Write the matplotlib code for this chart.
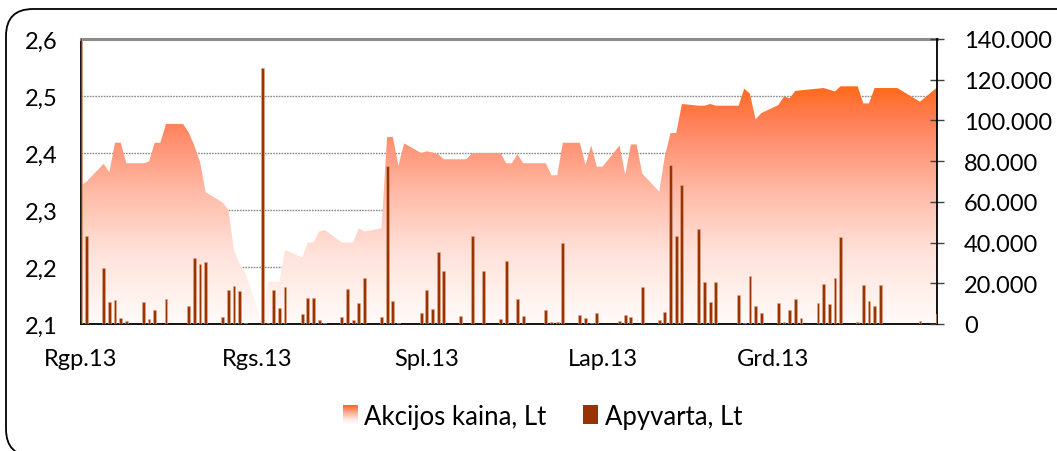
import matplotlib
matplotlib.use("Agg")
import matplotlib.pyplot as plt
import matplotlib.dates as mdates
from matplotlib.colors import LinearSegmentedColormap
from matplotlib.patches import Polygon, Rectangle, FancyBboxPatch
from matplotlib.legend_handler import HandlerBase
import numpy as np
import pandas as pd

# ---------------- data ----------------
aug_days = [1, 2, 5, 6, 7, 8, 9, 12, 13, 14, 15, 16, 19, 20, 21, 22, 23, 26, 27, 28, 29, 30]
aug_price = [2.343, 2.350, 2.381, 2.366, 2.418, 2.418, 2.382, 2.382, 2.385, 2.418, 2.418,
             2.451, 2.451, 2.436, 2.413, 2.384, 2.331, 2.313, 2.300, 2.229, 2.205, 2.190]
aug_turn = [150000, 43400, 27400, 10950, 11800, 2800, 1600, 10700, 2500, 7000, 0,
            12400, 0, 8800, 32600, 29500, 30300, 3300, 16900, 18700, 16400, 400]

sep_days = [2, 3, 4, 5, 6, 9, 10, 11, 12, 13, 16, 17, 18, 19, 20, 23, 24, 25, 26, 27, 30]
sep_price = [2.100, 2.174, 2.174, 2.174, 2.230, 2.217, 2.243, 2.243, 2.262, 2.265, 2.243,
             2.243, 2.243, 2.268, 2.262, 2.268, 2.428, 2.428, 2.378, 2.417, 2.400]
sep_turn = [125800, 300, 16900, 7900, 18300, 4900, 12600, 12900, 2000, 300, 3300,
            17000, 2100, 10200, 22400, 3300, 77800, 11300, 500, 200, 5200]

oct_days = [1, 2, 3, 4, 7, 8, 9, 10, 11, 14, 15, 16, 17, 18, 21, 22, 23, 24, 25, 28, 29, 30, 31]
oct_price = [2.403, 2.401, 2.398, 2.389, 2.389, 2.389, 2.400, 2.400, 2.400, 2.400, 2.382,
             2.382, 2.398, 2.382, 2.382, 2.382, 2.361, 2.361, 2.418, 2.418, 2.379, 2.413, 2.376]
oct_turn = [16500, 7400, 35200, 25900, 4100, 0, 43400, 0, 26200, 2500, 30800,
            0, 12300, 3800, 0, 6900, 1200, 1200, 39800, 4400, 3100, 700, 5400]

nov_days = [1, 4, 5, 6, 7, 8, 11, 12, 13, 14, 15, 18, 19, 20, 21, 22, 25, 26, 27, 28, 29]
nov_price = [2.376, 2.413, 2.362, 2.415, 2.415, 2.364, 2.332, 2.395, 2.435, 2.435, 2.486,
             2.483, 2.483, 2.486, 2.483, 2.483, 2.483, 2.513, 2.504, 2.459, 2.470]
nov_turn = [0, 1600, 4400, 3400, 0, 18000, 1800, 5700, 78100, 43100, 68300,
            46700, 20500, 10700, 20500, 0, 14300, 500, 23400, 8700, 5400]

dec_days = [2, 3, 4, 5, 6, 9, 10, 11, 12, 13, 16, 17, 18, 19, 20, 23, 27, 30]
dec_price = [2.484, 2.499, 2.496, 2.509, 2.510, 2.513, 2.514, 2.511, 2.508, 2.517, 2.517,
             2.487, 2.487, 2.514, 2.514, 2.514, 2.490, 2.515]
dec_turn = [10500, 1100, 6900, 12200, 2900, 10200, 19700, 9600, 22500, 42600, 800,
            19200, 11500, 9000, 19200, 0, 1600, 5100]

month_ticks = ["2013-08-01", "2013-09-01", "2013-10-01", "2013-11-01", "2013-12-01"]
month_labels = ["Rgp.13", "Rgs.13", "Spl.13", "Lap.13", "Grd.13"]
left_ticks = [2.1, 2.2, 2.3, 2.4, 2.5, 2.6]
right_ticks = [0, 20000, 40000, 60000, 80000, 100000, 120000, 140000]
series_names = ["Akcijos kaina, Lt", "Apyvarta, Lt"]

# ---------------- assemble ----------------
dates, price, turn = [], [], []
for m, d_, p_, t_ in [(8, aug_days, aug_price, aug_turn), (9, sep_days, sep_price, sep_turn),
                      (10, oct_days, oct_price, oct_turn), (11, nov_days, nov_price, nov_turn),
                      (12, dec_days, dec_price, dec_turn)]:
    dates += [pd.Timestamp(2013, m, d) for d in d_]
    price += p_
    turn += t_
xn = mdates.date2num(pd.to_datetime(dates).to_pydatetime())
price = np.array(price)
turn = np.array(turn)

plt.rcParams['font.family'] = ['Lato', 'DejaVu Sans']
FS = 17
LFS = 18.5

W, H = 1057, 452
fig = plt.figure(figsize=(W / 100, H / 100), dpi=100)
fig.patch.set_facecolor('white')

# outer rounded frame
frame = FancyBboxPatch((0.06, -0.05), 10.80, 4.47,
                       boxstyle="round,pad=0,rounding_size=0.27",
                       transform=fig.dpi_scale_trans, facecolor='none',
                       edgecolor='black', linewidth=1.3, clip_on=False)
fig.patches.append(frame)

L, R, T, B = 81, 937, 40, 325
ax = fig.add_axes([L / W, 1 - B / H, (R - L) / W, (B - T) / H])
ax.set_facecolor('none')

ymin, ymax = 2.1, 2.6
x0 = mdates.date2num(pd.Timestamp("2013-08-01").to_pydatetime())
x1 = mdates.date2num(pd.Timestamp("2013-12-30").to_pydatetime())

# gridlines
for g in left_ticks[1:-1]:
    ax.axhline(g, color='#8a8a8a', lw=1.0, ls=(0, (1.2, 0.8)), zorder=0.5)

# gradient area
cmap = LinearSegmentedColormap.from_list('grad', [
    (0.0, '#fffbfa'), (0.30, '#ffe2da'), (0.55, '#ffbba8'),
    (0.75, '#ff9476'), (0.87, '#ff7d52'), (1.0, '#ff6a1a')])
top = price.max()
verts = [(xn[0], ymin)] + list(zip(xn, price)) + [(xn[-1], ymin)]
poly = Polygon(verts, closed=True, facecolor='none', edgecolor='none', transform=ax.transData)
ax.add_patch(poly)
grad = np.linspace(0, 1, 512).reshape(-1, 1)
im = ax.imshow(grad, cmap=cmap, origin='lower', aspect='auto',
               extent=[x0, x1, ymin, top], zorder=1, interpolation='bilinear')
im.set_clip_path(poly)
ax.set_xlim(x0, x1)
ax.set_ylim(ymin, ymax)

ax.set_yticks(left_ticks)
ax.set_yticklabels([f"{v:.1f}".replace('.', ',') for v in left_ticks], fontsize=FS)
ax.tick_params(axis='y', length=0, pad=17)
ax.set_xticks(mdates.date2num(pd.to_datetime(month_ticks).to_pydatetime()))
ax.set_xticklabels(month_labels, fontsize=FS)
ax.tick_params(axis='x', length=0, pad=17)

for s in ['left', 'bottom']:
    ax.spines[s].set_color('black')
    ax.spines[s].set_linewidth(1.3)
ax.spines['top'].set_color('#8c8c8c')
ax.spines['top'].set_linewidth(2.2)
ax.spines['right'].set_visible(False)

# turnover bars on secondary axis
ax2 = ax.twinx()
ax2.set_ylim(0, 140000)
ax2.bar(xn, turn, width=0.5, color='#993300', edgecolor='#e3a98c', linewidth=0.4, zorder=3)
ax2.set_xlim(x0, x1)
ax2.set_yticks(right_ticks)
ax2.set_yticklabels([f"{v:,}".replace(',', '.') for v in right_ticks], fontsize=FS)
ax2.tick_params(axis='y', direction='inout', length=9.6, width=1.0, color='#404040', pad=14.5)
for s in ['left', 'top', 'bottom']:
    ax2.spines[s].set_visible(False)
ax2.spines['right'].set_color('black')
ax2.spines['right'].set_linewidth(1.3)


# legend
class GradHandler(HandlerBase):
    def create_artists(self, legend, orig_handle, xdescent, ydescent, width, height, fontsize, trans):
        n = 20
        arts = []
        for i in range(n):
            f = 1 - i / (n - 1)
            r = Rectangle((-xdescent, -ydescent + height * (n - 1 - i) / n), width, height / n,
                          facecolor=cmap(f), edgecolor='none', transform=trans)
            arts.append(r)
        return arts


h1 = Rectangle((0, 0), 1, 1, facecolor='#ff8060')
h2 = Rectangle((0, 0), 1, 1, facecolor='#993300', edgecolor='none')
fig.legend([h1, h2], series_names, loc='center', bbox_to_anchor=(0.513, 0.077),
           ncol=2, frameon=False, fontsize=LFS, handlelength=0.6, handleheight=0.75,
           handletextpad=0.25, columnspacing=1.4,
           handler_map={h1: GradHandler()})

fig.savefig('out.png', dpi=100)
